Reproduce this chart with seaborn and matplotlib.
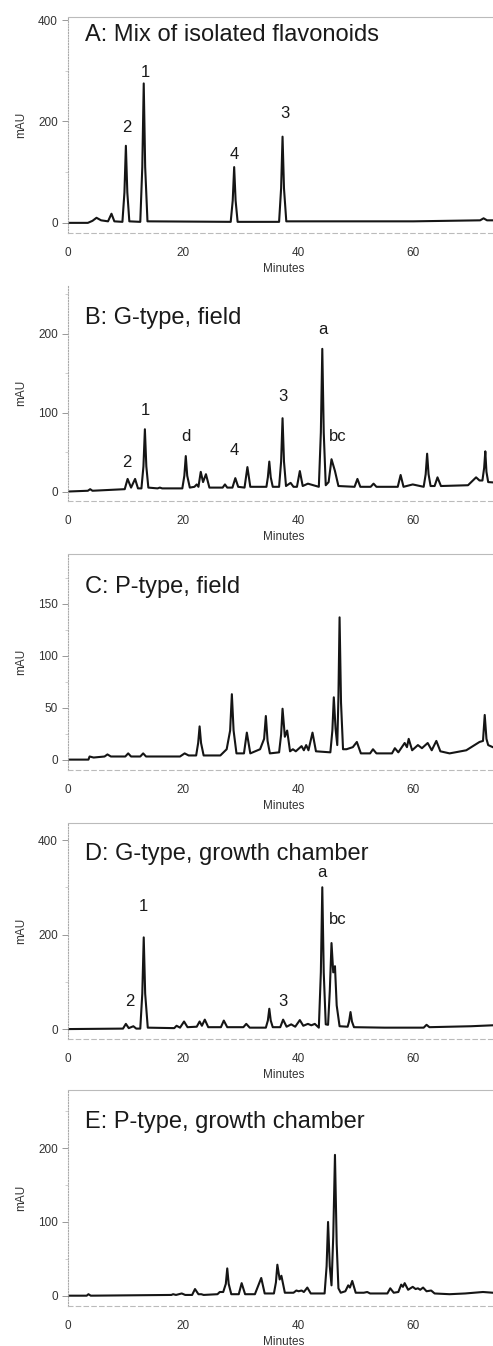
import pandas as pd
import seaborn as sns
import matplotlib.pyplot as plt
from matplotlib.ticker import MultipleLocator

# chromatogram traces: (minutes, mAU)
trace_a = [(0, 0), (3.5, 0), (4.3, 4), (5.0, 10), (5.8, 5), (7.0, 3), (7.6, 18), (8.1, 3),
           (9.5, 2), (9.85, 60), (10.1, 152), (10.35, 60), (10.7, 3),
           (12.6, 2), (12.95, 110), (13.2, 275), (13.45, 110), (13.85, 3),
           (28.3, 2), (28.65, 44), (28.9, 110), (29.15, 44), (29.5, 2),
           (36.7, 2), (37.05, 68), (37.3, 170), (37.55, 68), (37.95, 3),
           (40.5, 3), (50, 3), (60, 3), (71.6, 5), (72.2, 9), (72.8, 5), (75, 5)]
trace_b = [(0, 0), (3.5, 1), (3.9, 3), (4.3, 1), (9.9, 3), (10.4, 16), (11.0, 5), (11.7, 16),
           (12.2, 4), (12.8, 4), (13.15, 32), (13.4, 79), (13.65, 32), (14.0, 5),
           (15.6, 4), (16.0, 5), (16.4, 4),
           (19.9, 4), (20.25, 20), (20.5, 45), (20.75, 20), (21.2, 5),
           (22.0, 6), (22.4, 9), (22.7, 6), (23.1, 25), (23.5, 12), (24.0, 22), (24.6, 5),
           (26.9, 5), (27.3, 9), (27.7, 5), (28.6, 5), (29.1, 17), (29.6, 6), (30.7, 5),
           (31.2, 31), (31.7, 6), (34.5, 6), (34.75, 18), (35.0, 38), (35.25, 18), (35.6, 6),
           (36.7, 6), (37.05, 38), (37.3, 93), (37.55, 38), (37.9, 7),
           (38.7, 11), (39.2, 6), (39.8, 6), (40.3, 26), (40.8, 7), (41.7, 10), (43.6, 6),
           (43.95, 75), (44.2, 181), (44.45, 75), (44.8, 8), (45.3, 12),
           (45.8, 41), (46.4, 26), (47.0, 7), (49.8, 6), (50.3, 16), (50.8, 6), (52.6, 6),
           (53.1, 10), (53.6, 6), (57.3, 6), (57.8, 21), (58.3, 6), (59.9, 9), (61.8, 6),
           (62.15, 22), (62.4, 48), (62.65, 22), (63.0, 7), (63.7, 7), (64.2, 18), (64.8, 7),
           (69.5, 8), (70.9, 18), (71.5, 14), (72.0, 14), (72.3, 30), (72.5, 51), (72.7, 25),
           (73.0, 12), (75, 11)]
trace_c = [(0, 0), (3.6, 0), (3.8, 3), (4.5, 2), (6.4, 3), (6.9, 5), (7.5, 3), (10.0, 3),
           (10.5, 6), (11.0, 3), (12.6, 3), (13.1, 6), (13.6, 3), (19.5, 3), (20.3, 6),
           (21.0, 4), (22.3, 4), (22.65, 16), (22.9, 32), (23.15, 16), (23.6, 4),
           (26.5, 4), (27.6, 10), (28.2, 28), (28.5, 63), (28.8, 28), (29.3, 6),
           (30.6, 6), (31.1, 26), (31.7, 6), (33.4, 10), (34.1, 20), (34.4, 42), (34.7, 18),
           (35.1, 6), (36.7, 7), (37.05, 24), (37.3, 49), (37.7, 22), (38.1, 28), (38.6, 8),
           (39.1, 10), (39.6, 8), (40.6, 13), (41.0, 9), (41.4, 14), (41.8, 9), (42.5, 26),
           (43.1, 8), (45.6, 7), (45.95, 28), (46.2, 60), (46.5, 30), (46.8, 14),
           (47.0, 60), (47.2, 137), (47.45, 55), (47.8, 10), (48.4, 10), (49.5, 12),
           (50.2, 17), (50.9, 6), (52.5, 6), (53.0, 10), (53.6, 6), (56.3, 6), (56.8, 11),
           (57.4, 7), (58.5, 16), (58.9, 12), (59.2, 20), (59.8, 9), (60.8, 14), (61.5, 11),
           (62.5, 16), (63.2, 9), (64.0, 18), (64.7, 8), (66.3, 6), (69.2, 9), (71.5, 17),
           (72.1, 18), (72.4, 43), (72.7, 20), (73.0, 14), (73.8, 12), (75, 10)]
trace_d = [(0, 0), (9.6, 1), (10.1, 11), (10.6, 2), (11.4, 6), (11.9, 1), (12.6, 1),
           (12.95, 75), (13.2, 194), (13.45, 75), (13.9, 3), (18.5, 2), (18.9, 7),
           (19.5, 3), (20.2, 16), (20.8, 4), (22.4, 5), (22.9, 16), (23.3, 7), (23.8, 20),
           (24.4, 4), (26.6, 4), (27.1, 18), (27.7, 4), (30.5, 4), (31.0, 11), (31.6, 3),
           (34.4, 3), (34.75, 18), (35.0, 43), (35.25, 18), (35.6, 4),
           (36.9, 4), (37.4, 20), (38.0, 5), (38.8, 10), (39.5, 5), (40.3, 19), (40.9, 7),
           (41.7, 11), (42.3, 8), (42.9, 11), (43.6, 3), (43.95, 120), (44.2, 300),
           (44.45, 120), (44.8, 10), (45.2, 9), (45.5, 80), (45.8, 182), (46.1, 120),
           (46.4, 133), (46.7, 50), (47.2, 6), (48.6, 5), (48.85, 16), (49.1, 36),
           (49.35, 16), (49.7, 4), (55, 3), (61.8, 3), (62.3, 9), (62.8, 4), (70, 6),
           (73.8, 8), (75, 8)]
trace_e = [(0, 0), (3.3, 0), (3.6, 2), (4.0, 0), (18.0, 1), (18.3, 2), (18.8, 1), (19.8, 3),
           (20.4, 1), (21.6, 1), (22.1, 9), (22.7, 2), (23.2, 2), (23.6, 1), (26.0, 2),
           (26.4, 5), (27.0, 5), (27.45, 16), (27.7, 37), (27.95, 16), (28.4, 2),
           (29.7, 2), (30.2, 17), (30.8, 2), (32.5, 2), (33.6, 24), (34.2, 3), (35.8, 3),
           (36.15, 18), (36.4, 42), (36.8, 22), (37.1, 27), (37.7, 4), (39.2, 4), (39.7, 7),
           (40.1, 6), (40.6, 7), (41.0, 5), (41.6, 11), (42.2, 3), (44.6, 3), (44.95, 40),
           (45.2, 100), (45.5, 40), (45.8, 14), (46.1, 80), (46.4, 191), (46.7, 70),
           (47.0, 10), (47.4, 4), (48.2, 6), (48.7, 14), (49.0, 11), (49.4, 20), (50.0, 4),
           (51.4, 4), (52.0, 5), (52.5, 3), (55.5, 3), (56.0, 10), (56.6, 4), (57.4, 5),
           (57.9, 15), (58.2, 12), (58.5, 17), (59.1, 8), (59.9, 12), (60.4, 9), (60.8, 10),
           (61.2, 8), (61.7, 11), (62.3, 6), (63.1, 7), (63.7, 3), (66.3, 2), (69.0, 3),
           (72.1, 5), (73.8, 4), (75, 4)]

titles = ['A: Mix of isolated flavonoids', 'B: G-type, field', 'C: P-type, field',
          'D: G-type, growth chamber', 'E: P-type, growth chamber']

# peak labels: (text, minutes, mAU)
labels_a = [('2', 10.3, 189), ('1', 13.5, 296), ('4', 28.9, 135), ('3', 37.7, 216)]
labels_b = [('2', 10.3, 37), ('1', 13.5, 103), ('d', 20.5, 70), ('4', 29.0, 52),
            ('3', 37.4, 121), ('a', 44.3, 205), ('bc', 46.9, 70)]
labels_c = []
labels_d = [('2', 10.8, 59), ('1', 13.2, 260), ('3', 37.4, 59), ('a', 44.2, 332),
            ('bc', 46.9, 232)]
labels_e = []

yticks = [[0, 200, 400], [0, 100, 200], [0, 50, 100, 150], [0, 200, 400], [0, 100, 200]]
ylims = [(-20, 406), (-12, 262), (-10, 198), (-21, 436), (-14, 279)]
title_y = [371, 220, 166, 371, 236]

traces = [trace_a, trace_b, trace_c, trace_d, trace_e]
labels = [labels_a, labels_b, labels_c, labels_d, labels_e]

frames = []
for name, tr in zip('ABCDE', traces):
    df = pd.DataFrame(tr, columns=['Minutes', 'mAU'])
    df['panel'] = name
    frames.append(df)
data = pd.concat(frames, ignore_index=True)

sns.set_theme(style='white')
plt.rcParams['font.family'] = ['Liberation Sans', 'DejaVu Sans']

W, H = 493, 1346
fig = plt.figure(figsize=(W / 100, H / 100), dpi=100)
tops = [17, 285, 554, 823, 1090]
ax_h = 216
left = 67.7
ax_w = 75 * 5.76

for i, (name, g) in enumerate(data.groupby('panel', sort=False)):
    top = tops[i]
    ax = fig.add_axes([left / W, 1 - (top + ax_h) / H, ax_w / W, ax_h / H])
    sns.lineplot(x='Minutes', y='mAU', data=g, color='#151515', linewidth=1.5,
                 estimator=None, sort=False, ax=ax)
    ax.set_xlim(0, 75)
    ax.set_ylim(*ylims[i])
    ax.set_xticks([0, 20, 40, 60])
    ax.set_yticks(yticks[i])
    ax.yaxis.set_minor_locator(MultipleLocator(yticks[i][1] / 2))
    ax.tick_params(axis='y', which='major', left=True, length=4, width=0.6,
                   color='#888888', labelsize=8.5, labelcolor='#333333', pad=3)
    ax.tick_params(axis='y', which='minor', left=True, length=2, width=0.5,
                   color='#bbbbbb')
    ax.tick_params(axis='x', length=0, labelsize=8.5, labelcolor='#333333', pad=10)
    ax.set_xlabel('Minutes', fontsize=8.5, color='#333333', labelpad=3)
    ax.set_ylabel('mAU', fontsize=8.5, color='#333333', labelpad=8)
    ax.spines['left'].set_color('#aaaaaa')
    ax.spines['left'].set_linestyle((0, (1, 1.5)))
    ax.spines['left'].set_linewidth(0.8)
    ax.spines['bottom'].set_color('#bbbbbb')
    ax.spines['bottom'].set_linestyle((0, (4, 3)))
    ax.spines['bottom'].set_linewidth(0.8)
    ax.spines['right'].set_visible(False)
    ax.spines['top'].set_color('#bbbbbb')
    ax.spines['top'].set_linewidth(0.8)
    if name == 'B':
        ax.spines['top'].set_visible(False)
    ax.text(3.0, title_y[i], titles[i], fontsize=17, color='#1a1a1a', va='center')
    for txt, tx, ty in labels[i]:
        ax.text(tx, ty, txt, fontsize=12, color='#1a1a1a', ha='center', va='center')

fig.savefig('out.png', dpi=100)
